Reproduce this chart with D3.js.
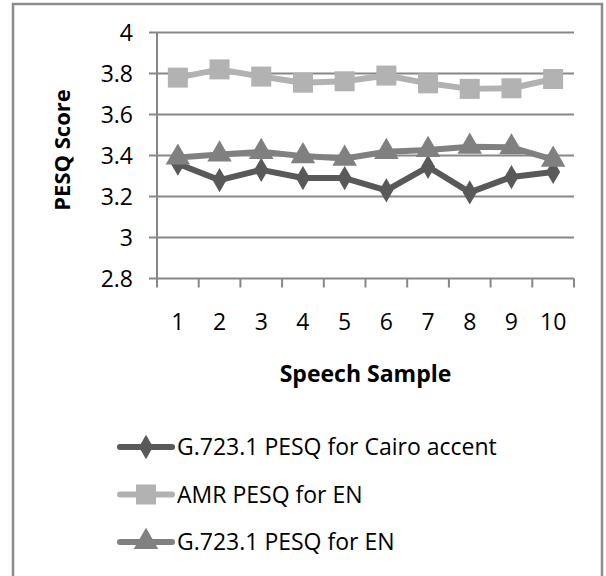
<!DOCTYPE html>
<html>
<head>
<meta charset="utf-8">
<script src="https://cdn.jsdelivr.net/npm/d3@7"></script>
<style>
  body { margin: 0; background: #fff; }
  text { font-family: "Open Sans", "Liberation Sans", sans-serif; fill: #000; }
</style>
</head>
<body>
<div id="chart-area"></div>
<script>
const samples = [1, 2, 3, 4, 5, 6, 7, 8, 9, 10];
const cairoG723 = [3.36, 3.28, 3.33, 3.29, 3.29, 3.23, 3.345, 3.22, 3.295, 3.32];
const amrEN = [3.78, 3.82, 3.785, 3.755, 3.762, 3.79, 3.752, 3.725, 3.728, 3.773];
const g723EN = [3.39, 3.405, 3.418, 3.397, 3.385, 3.418, 3.427, 3.443, 3.44, 3.38];
const yTicks = [2.8, 3, 3.2, 3.4, 3.6, 3.8, 4];

const series = [
  {name: "G.723.1 PESQ for Cairo accent", values: cairoG723, color: "#595959", shape: d3.symbolDiamond, size: 170},
  {name: "AMR PESQ for EN", values: amrEN, color: "#b2b2b2", shape: d3.symbolSquare, size: 400},
  {name: "G.723.1 PESQ for EN", values: g723EN, color: "#808080", shape: d3.symbolTriangle, size: 260}
];

const svgWidth = 606, svgHeight = 576;
const margin = {left: 157, right: 32, top: 32.5, bottom: 297.5};
const areaWidth = svgWidth - margin.left - margin.right;
const areaHeight = svgHeight - margin.top - margin.bottom;
const fontSize = "23px";

const svg = d3.select("#chart-area")
  .append("svg")
  .attr("width", svgWidth)
  .attr("height", svgHeight);

// outer frame
svg.append("rect")
  .attr("x", 13).attr("y", 4)
  .attr("width", 589).attr("height", 590)
  .attr("fill", "none")
  .attr("stroke", "#8c8c8c")
  .attr("stroke-width", 2.5);

const area = svg.append("g")
  .attr("transform", `translate(${margin.left}, ${margin.top})`);

const x = d3.scaleBand().domain(samples).range([0, areaWidth]);
const y = d3.scaleLinear().domain([2.8, 4]).range([areaHeight, 0]);

// gridlines
area.append("g")
  .selectAll("line")
  .data(yTicks)
  .enter().append("line")
  .attr("x1", -8).attr("x2", areaWidth)
  .attr("y1", d => y(d)).attr("y2", d => y(d))
  .attr("stroke", "#878787")
  .attr("stroke-width", 2);

// y axis line
area.append("line")
  .attr("x1", 0).attr("x2", 0)
  .attr("y1", 0).attr("y2", areaHeight)
  .attr("stroke", "#878787")
  .attr("stroke-width", 2);

// y tick labels
area.append("g")
  .selectAll("text")
  .data(yTicks)
  .enter().append("text")
  .attr("x", -24)
  .attr("y", d => y(d))
  .attr("dy", "0.36em")
  .attr("text-anchor", "end")
  .attr("font-size", fontSize)
  .text(d => d3.format("~g")(d));

// x axis
const xAxisCall = d3.axisBottom(x).tickSize(0).tickPadding(43);
const xAxisGroup = area.append("g")
  .attr("transform", `translate(0, ${areaHeight})`)
  .call(xAxisCall);
xAxisGroup.select(".domain").remove();
xAxisGroup.selectAll("text")
  .attr("font-size", fontSize)
  .attr("dy", "0.36em")
  .attr("font-family", "\"Open Sans\", \"Liberation Sans\", sans-serif")
  .attr("fill", "#000");

// x tick marks between categories
const bounds = samples.map(d => x(d)).concat([areaWidth]);
area.append("g")
  .selectAll("line")
  .data(bounds)
  .enter().append("line")
  .attr("x1", d => d).attr("x2", d => d)
  .attr("y1", areaHeight).attr("y2", areaHeight + 9)
  .attr("stroke", "#878787")
  .attr("stroke-width", 2);

// axis titles
area.append("text")
  .attr("x", areaWidth / 2)
  .attr("y", areaHeight + 95)
  .attr("dy", "0.36em")
  .attr("text-anchor", "middle")
  .attr("font-size", fontSize)
  .attr("font-weight", "bold")
  .text("Speech Sample");

area.append("text")
  .attr("transform", "rotate(-90)")
  .attr("x", -117.5)
  .attr("y", -95)
  .attr("dy", "0.36em")
  .attr("text-anchor", "middle")
  .attr("font-size", "22px")
  .attr("font-weight", "bold")
  .text("PESQ Score");

// lines and markers
const line = d3.line()
  .x((d, i) => x(samples[i]) + x.bandwidth() / 2)
  .y(d => y(d));

series.forEach(s => {
  area.append("path")
    .attr("fill", "none")
    .attr("stroke", s.color)
    .attr("stroke-width", 6)
    .attr("stroke-linejoin", "round")
    .attr("d", line(s.values));

  area.append("g")
    .selectAll("path")
    .data(s.values)
    .enter().append("path")
    .attr("transform", (d, i) => `translate(${x(samples[i]) + x.bandwidth() / 2}, ${y(d)})`)
    .attr("d", d3.symbol().type(s.shape).size(s.size))
    .attr("fill", s.color);
});

// legend
const legend = svg.append("g")
  .attr("transform", "translate(120, 447)");

series.forEach((s, i) => {
  const row = legend.append("g")
    .attr("transform", `translate(0, ${i * 47.5})`);
  row.append("line")
    .attr("x1", 0).attr("x2", 52)
    .attr("y1", 0).attr("y2", 0)
    .attr("stroke", s.color)
    .attr("stroke-width", 6)
    .attr("stroke-linecap", "round");
  row.append("path")
    .attr("transform", "translate(26, 0)")
    .attr("d", d3.symbol().type(s.shape).size(s.size))
    .attr("fill", s.color);
  row.append("text")
    .attr("x", 57)
    .attr("y", 0)
    .attr("dy", "0.36em")
    .attr("font-size", fontSize)
    .text(s.name);
});
</script>
</body>
</html>
